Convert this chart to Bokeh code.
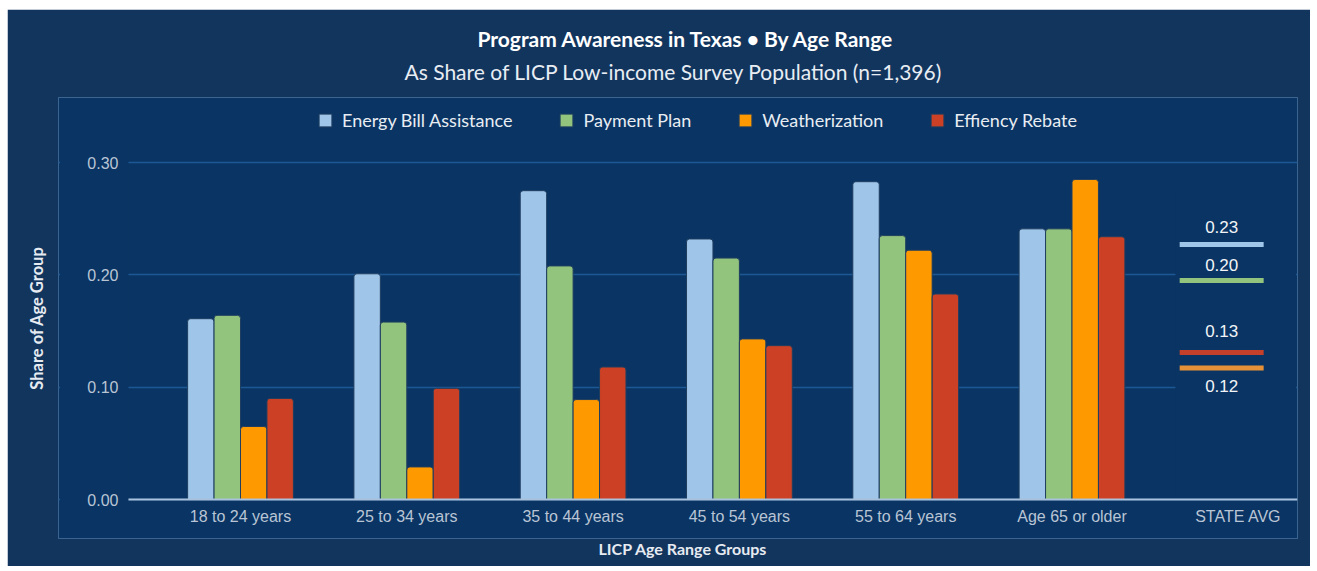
from bokeh.plotting import figure
from bokeh.models import (ColumnDataSource, Range1d, FixedTicker, NumeralTickFormatter,
                          Legend, LegendItem, Title, Spacer)
from bokeh.layouts import column, row
from bokeh.embed import file_html
from bokeh.resources import INLINE
from bokeh.core.properties import value
import numpy as np

# ---------------- data ----------------
title_text = "Program Awareness in Texas \u2022 By Age Range"
subtitle_text = "As Share of LICP Low-income Survey Population (n=1,396)"
x_axis_title = "LICP Age Range Groups"
y_axis_title = "Share of Age Group"

categories = ["18 to 24 years", "25 to 34 years", "35 to 44 years",
              "45 to 54 years", "55 to 64 years", "Age 65 or older"]
state_label = "STATE AVG"
series_names = ["Energy Bill Assistance", "Payment Plan", "Weatherization", "Effiency Rebate"]

energy_bill = [0.161, 0.201, 0.275, 0.232, 0.283, 0.241]
payment_plan = [0.164, 0.158, 0.208, 0.215, 0.235, 0.241]
weatherization = [0.065, 0.029, 0.089, 0.143, 0.222, 0.285]
efficiency_rebate = [0.090, 0.099, 0.118, 0.137, 0.183, 0.234]

state_avg = [0.227, 0.195, 0.117, 0.131]
state_avg_text = ["0.23", "0.20", "0.12", "0.13"]

y_ticks = [0.0, 0.1, 0.2, 0.3]

# ---------------- styles ----------------
bar_colors = ["#9fc5e8", "#93c47d", "#ff9900", "#cc4125"]
avg_colors = ["#9fc5e8", "#93c47d", "#e69138", "#c5402a"]
avg_label_offsets = [-18, -16, 18, -21]
OUTER = "#12355e"
INNER = "#0a3463"
GRID = "#1d5895"
TICK_TXT = "#b9c5d5"

W, H = 1303, 557
BL, BR, BT, BB = 51, 13, 88, 28
frame_w = W - BL - BR
frame_h = H - BT - BB
px_per_cat = 166.3
px_per_unit = 1123.0
x_start = -182.0 / px_per_cat          # panel left edge relative to first group centre
x_end = x_start + frame_w / px_per_cat
x_axis_start = -112.0 / px_per_cat     # where the axis line begins
y_start = -39.0 / px_per_unit
y_end = y_start + frame_h / px_per_unit

p = figure(width=W, height=H, output_backend="svg", toolbar_location=None,
           x_range=Range1d(x_start, x_end), y_range=Range1d(y_start, y_end),
           min_border_left=BL, min_border_right=BR, min_border_top=BT, min_border_bottom=BB)
p.border_fill_color = OUTER
p.background_fill_color = INNER
p.outline_line_color = "#3a6590"
p.outline_line_width = 1

n = len(categories)

# masks (hide grid lines outside the plotting zone)
p.quad(left=x_start + 1.5 / px_per_cat, right=x_axis_start, bottom=-0.01, top=0.32,
       fill_color=INNER, line_color=None)
p.quad(left=n - 0.378, right=x_end - 1.5 / px_per_cat, bottom=0.002, top=0.275,
       fill_color=INNER, line_color=None)

# bars
idx = np.arange(n)
bar_w = 0.159
offsets = [-1.5, -0.5, 0.5, 1.5]
series = [energy_bill, payment_plan, weatherization, efficiency_rebate]
renderers = []
for name, vals, col, k in zip(series_names, series, bar_colors, offsets):
    src = ColumnDataSource(dict(x=idx + k * bar_w, top=vals))
    r = p.vbar(x="x", top="top", bottom=0, width=bar_w, source=src,
               fill_color=col, line_color="#1f3e60", line_width=1, border_radius=(3, 3, 0, 0))
    renderers.append(r)

# state averages
xc = n - 0.1
half = 0.2525
avg_src = ColumnDataSource(dict(x0=[xc - half] * len(state_avg), x1=[xc + half] * len(state_avg),
                                y=state_avg, color=avg_colors, text=state_avg_text,
                                yoff=avg_label_offsets))
p.segment(x0="x0", x1="x1", y0="y", y1="y", line_color="color", line_width=5, source=avg_src)
p.text(x=xc, y="y", text="text", y_offset="yoff", source=avg_src,
       text_align="center", text_baseline="middle", text_font=value("Liberation Sans"),
       text_font_size="17px", text_color="#f2f4f7")

# axes
p.xaxis.fixed_location = 0
p.xaxis.bounds = (x_axis_start, x_end)
p.xaxis.ticker = FixedTicker(ticks=list(range(n + 1)))
p.xaxis.major_label_overrides = {i: lab for i, lab in enumerate(categories + [state_label])}
p.xaxis.axis_line_color = "#a9c1dc"
p.xaxis.axis_line_width = 2
p.xaxis.major_tick_line_color = None
p.xaxis.minor_tick_line_color = None
p.xaxis.major_tick_out = 0
p.xaxis.major_tick_in = 0
p.xaxis.major_label_text_font = "Liberation Sans"
p.xaxis.major_label_text_font_size = "16px"
p.xaxis.major_label_text_color = TICK_TXT
p.xaxis.major_label_standoff = 8

p.yaxis.fixed_location = x_axis_start
p.yaxis.bounds = (0, 0.3)
p.yaxis.ticker = FixedTicker(ticks=y_ticks)
p.yaxis.formatter = NumeralTickFormatter(format="0.00")
p.yaxis.axis_line_color = None
p.yaxis.major_tick_line_color = None
p.yaxis.minor_tick_line_color = None
p.yaxis.major_tick_out = 0
p.yaxis.major_tick_in = 0
p.yaxis.major_label_text_font = "Liberation Sans"
p.yaxis.major_label_text_font_size = "16px"
p.yaxis.major_label_text_color = TICK_TXT
p.yaxis.major_label_standoff = 10

p.xgrid.grid_line_color = None
p.ygrid.ticker = FixedTicker(ticks=y_ticks)
p.ygrid.grid_line_color = GRID
p.ygrid.grid_line_width = 1.5

# titles (first added sits closest to the frame)
p.title = None
p.add_layout(Title(text=subtitle_text, align="left", offset=404 - 58, standoff=28,
                   text_font="Lato", text_font_style="normal", text_font_size="21px",
                   text_color="#e8edf3"), "above")
p.add_layout(Title(text=title_text, align="left", offset=477 - 58, standoff=-17,
                   text_font="Lato", text_font_style="bold", text_font_size="21px",
                   text_color="#ffffff"), "above")
p.add_layout(Title(text=x_axis_title, align="left", offset=598 - 58, standoff=-4,
                   text_font="Lato", text_font_style="bold", text_font_size="16px",
                   text_color="#e6ebf1"), "below")
p.add_layout(Title(text=y_axis_title, align="center", standoff=24,
                   text_font="Lato", text_font_style="bold", text_font_size="16.5px",
                   text_color="#e6ebf1"), "left")

# legend
legend = Legend(items=[LegendItem(label=nm, renderers=[r]) for nm, r in zip(series_names, renderers)],
                orientation="horizontal", location=(259, 538 - 131),
                glyph_width=16, glyph_height=16, label_standoff=9, spacing=46, padding=10,
                label_text_font="Lato", label_text_font_size="18px", label_text_color="#e8edf3",
                background_fill_alpha=0, border_line_color=None)
p.add_layout(legend, "center")

layout = column(Spacer(height=9), row(Spacer(width=7), p))
open("out.html", "w").write(file_html(layout, INLINE))
